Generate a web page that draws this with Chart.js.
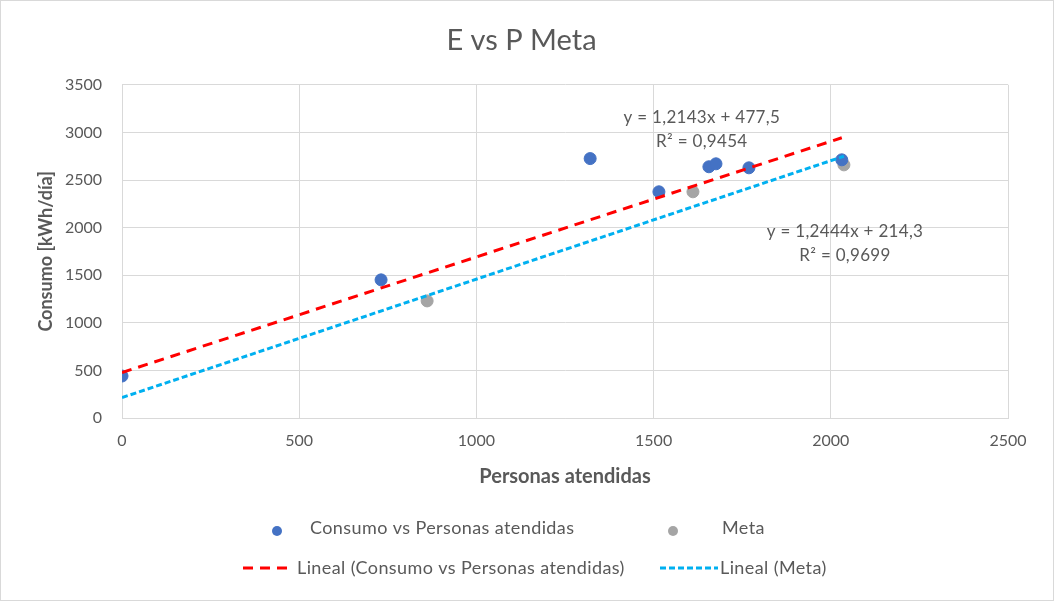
<!DOCTYPE html>
<html>
<head>
<meta charset="utf-8">
<script src="https://cdn.jsdelivr.net/npm/chart.js@4.4.1/dist/chart.umd.min.js"></script>
<style>
  html, body { margin: 0; padding: 0; background: #fff; }
  #wrap { width: 1054px; height: 601px; position: relative; }
</style>
</head>
<body>
<div id="wrap"><canvas id="c" width="1054" height="601"></canvas></div>
<script>
// Observed consumption vs people served
const consumoX = [0, 731, 1321, 1515, 1656, 1676, 1769, 2031];
const consumoY = [441, 1451, 2725, 2376, 2639, 2670, 2628, 2712];

// Target ("Meta") points
const metaX = [861, 1611, 2037];
const metaY = [1230, 2376, 2659];

// Linear trendline coefficients, as printed on the chart
const trendConsumo = { slope: 1.2143, intercept: 477.5, r2: 0.9454 };
const trendMeta = { slope: 1.2444, intercept: 214.3, r2: 0.9699 };

// Axis ticks
const xTicks = [0, 500, 1000, 1500, 2000, 2500];
const yTicks = [0, 500, 1000, 1500, 2000, 2500, 3000, 3500];

const FONT = "Lato, 'Open Sans', sans-serif";
const TEXT = '#595959';
const GRID = '#d9d9d9';

const pts = (xs, ys) => xs.map((x, i) => ({ x, y: ys[i] }));
// Trendlines run from the origin of the x axis to the last point of the series
const trendPts = (t, xs) => {
  const x0 = 0, x1 = Math.max(...xs);
  return [{ x: x0, y: t.slope * x0 + t.intercept }, { x: x1, y: t.slope * x1 + t.intercept }];
};
const fmt = (v, d) => v.toFixed(d).replace('.', ',');

const datasets = [
  { label: 'Consumo vs Personas atendidas', type: 'scatter', data: pts(consumoX, consumoY),
    backgroundColor: '#4472C4', borderColor: '#4472C4', pointRadius: 6, pointHoverRadius: 6, order: 1 },
  { label: 'Meta', type: 'scatter', data: pts(metaX, metaY),
    backgroundColor: '#A5A5A5', borderColor: '#A5A5A5', pointRadius: 6, pointHoverRadius: 6, order: 2 },
  { label: 'Lineal (Consumo vs Personas atendidas)', type: 'line', data: trendPts(trendConsumo, consumoX),
    borderColor: '#FF0000', borderWidth: 3, borderDash: [10, 7], pointRadius: 0, fill: false, order: 0 },
  { label: 'Lineal (Meta)', type: 'line', data: trendPts(trendMeta, metaX),
    borderColor: '#00B0F0', borderWidth: 3, borderDash: [6, 3], pointRadius: 0, fill: false, order: 0 }
];

// Background with a thin frame around the whole chart
const framePlugin = {
  id: 'frame',
  beforeDraw(chart) {
    const { ctx, width, height } = chart;
    ctx.save();
    ctx.fillStyle = '#fff';
    ctx.fillRect(0, 0, width, height);
    ctx.strokeStyle = '#d9d9d9';
    ctx.lineWidth = 1;
    ctx.strokeRect(0.5, 0.5, width - 1, height - 1);
    ctx.restore();
  }
};

// Trendline equation labels
const equationPlugin = {
  id: 'equations',
  afterDatasetsDraw(chart) {
    const { ctx, scales: { x, y } } = chart;
    const labels = [
      { t: trendConsumo, ax: 1636, ay: 3160 },
      { t: trendMeta, ax: 2040, ay: 1960 }
    ];
    ctx.save();
    ctx.fillStyle = TEXT;
    ctx.font = `17px ${FONT}`;
    ctx.letterSpacing = '0.3px';
    ctx.textAlign = 'center';
    ctx.textBaseline = 'middle';
    labels.forEach(({ t, ax, ay }) => {
      const px = x.getPixelForValue(ax), py = y.getPixelForValue(ay);
      ctx.fillText(`y = ${fmt(t.slope, 4)}x + ${fmt(t.intercept, 1)}`, px, py);
      ctx.fillText(`R² = ${fmt(t.r2, 4)}`, px, py + 24);
    });
    ctx.restore();
  }
};

// Two-row legend under the plot
const legendPlugin = {
  id: 'twoRowLegend',
  afterDraw(chart) {
    const { ctx } = chart;
    const ds = chart.data.datasets;
    const items = [
      { d: ds[0], kind: 'point', sx: 277, tx: 310, y: 528 },
      { d: ds[1], kind: 'point', sx: 673, tx: 722, y: 528 },
      { d: ds[2], kind: 'line', sx: 243, ex: 292, tx: 297, y: 568 },
      { d: ds[3], kind: 'line', sx: 660, ex: 718, tx: 720, y: 568 }
    ];
    ctx.save();
    ctx.font = `18px ${FONT}`;
    ctx.letterSpacing = '0.4px';
    ctx.textBaseline = 'middle';
    ctx.textAlign = 'left';
    items.forEach(it => {
      if (it.kind === 'point') {
        ctx.fillStyle = it.d.backgroundColor;
        ctx.beginPath();
        ctx.arc(it.sx, it.y + 3, 5, 0, Math.PI * 2);
        ctx.fill();
      } else {
        ctx.strokeStyle = it.d.borderColor;
        ctx.lineWidth = it.d.borderWidth;
        ctx.setLineDash(it.d.borderDash);
        ctx.beginPath();
        ctx.moveTo(it.sx, it.y);
        ctx.lineTo(it.ex, it.y);
        ctx.stroke();
        ctx.setLineDash([]);
      }
      ctx.fillStyle = TEXT;
      ctx.fillText(it.d.label, it.tx, it.y);
    });
    ctx.restore();
  }
};

new Chart(document.getElementById('c'), {
  type: 'scatter',
  data: { datasets },
  plugins: [framePlugin, equationPlugin, legendPlugin],
  options: {
    responsive: false,
    animation: false,
    events: [],
    layout: { padding: { left: 35, right: 46, top: 0, bottom: 112 } },
    plugins: {
      legend: { display: false },
      tooltip: { enabled: false },
      title: {
        display: true, text: 'E vs P Meta', color: TEXT,
        font: { family: FONT, size: 29, weight: 'normal', lineHeight: 1.2 },
        padding: { top: 23, bottom: 27 }
      }
    },
    scales: {
      x: {
        type: 'linear', min: 0, max: 2500,
        afterBuildTicks: s => { s.ticks = xTicks.map(v => ({ value: v })); },
        afterFit: s => { s.height = 71; },
        grid: { color: GRID, drawTicks: false },
        border: { color: GRID },
        ticks: { color: TEXT, padding: 13, font: { family: FONT, size: 16 }, callback: v => String(v) },
        title: { display: true, text: 'Personas atendidas', color: TEXT,
          font: { family: FONT, size: 20, weight: 'bold' }, padding: 0 }
      },
      y: {
        type: 'linear', min: 0, max: 3500,
        afterBuildTicks: s => { s.ticks = yTicks.map(v => ({ value: v })); },
        afterFit: s => { s.width = 122 - 35; },
        grid: { color: GRID, drawTicks: false },
        border: { color: GRID },
        ticks: { color: TEXT, padding: 20, font: { family: FONT, size: 16 }, callback: v => String(v) },
        title: { display: true, text: 'Consumo [kWh/día]', color: TEXT,
          font: { family: FONT, size: 18, weight: 'bold' }, padding: 0 }
      }
    }
  }
});
</script>
</body>
</html>
